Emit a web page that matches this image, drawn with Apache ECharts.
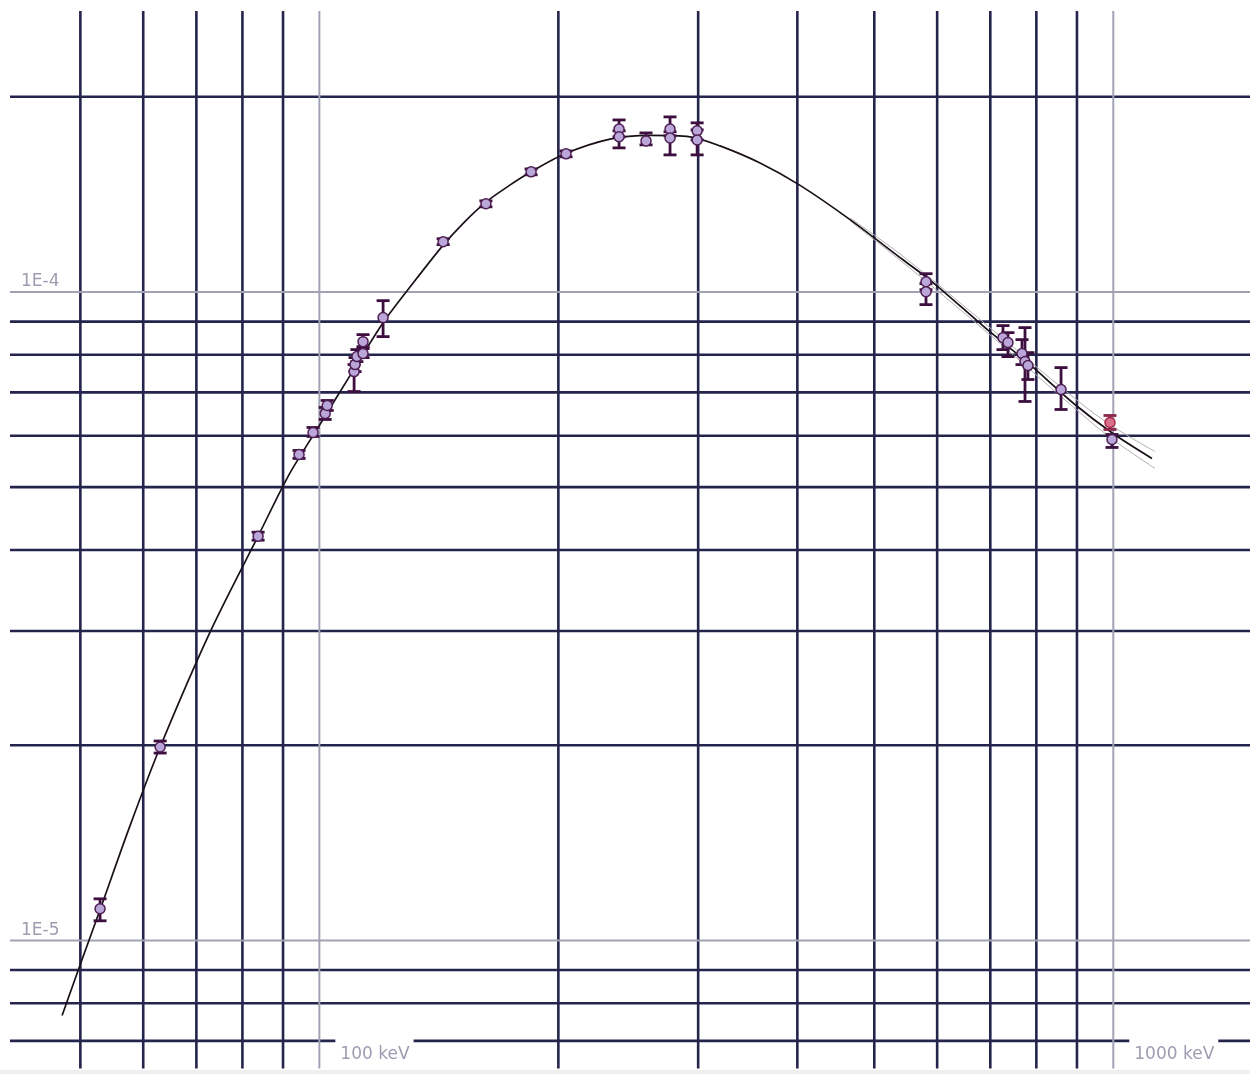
<!DOCTYPE html>
<html><head><meta charset="utf-8">
<script src="https://cdn.jsdelivr.net/npm/echarts@6/dist/echarts.min.js"></script>
<style>html,body{margin:0;padding:0;background:#efefef;overflow:hidden;} #c{width:1250px;height:1070px;background:#fff;}</style>
</head><body><div id="c"></div>
<script>
// ---- data (keV, photon flux) ----
const energyKeV = [52.94, 63.02, 83.72, 94.28, 98.19, 101.7, 102.3, 110.6, 110.9, 111.5, 113.5, 113.5, 120.3, 143.2, 162.1, 184.8, 204.5, 238.5, 238.5, 257.9, 276.5, 276.5, 299.1, 299.1, 580.9, 580.9, 726.2, 736.8, 767.4, 774.1, 780.8, 859.4, 996.2];
const flux = [1.119e-5, 1.987e-5, 4.201e-5, 5.616e-5, 6.071e-5, 6.495e-5, 6.682e-5, 7.537e-5, 7.726e-5, 7.949e-5, 8.034e-5, 8.383e-5, 9.129e-5, 1.195e-4, 1.368e-4, 1.532e-4, 1.633e-4, 1.784e-4, 1.735e-4, 1.710e-4, 1.784e-4, 1.728e-4, 1.772e-4, 1.716e-4, 1.037e-4, 1.001e-4, 8.503e-5, 8.354e-5, 8.034e-5, 7.809e-5, 7.699e-5, 7.073e-5, 5.922e-5];
const fluxLow = [1.072e-5, 1.945e-5, 4.142e-5, 5.537e-5, 5.986e-5, 6.359e-5, 6.565e-5, 7.022e-5, 7.537e-5, 7.809e-5, 7.921e-5, 8.236e-5, 8.533e-5, 1.183e-4, 1.353e-4, 1.516e-4, 1.616e-4, 1.735e-4, 1.668e-4, 1.686e-4, 1.741e-4, 1.627e-4, 1.716e-4, 1.627e-4, 1.008e-4, 9.560e-5, 8.149e-5, 7.949e-5, 7.726e-5, 6.778e-5, 7.328e-5, 6.588e-5, 5.757e-5];
const fluxHigh = [1.159e-5, 2.030e-5, 4.261e-5, 5.696e-5, 6.180e-5, 6.635e-5, 6.802e-5, 7.726e-5, 7.921e-5, 8.149e-5, 8.178e-5, 8.594e-5, 9.696e-5, 1.208e-4, 1.382e-4, 1.548e-4, 1.650e-4, 1.842e-4, 1.772e-4, 1.759e-4, 1.862e-4, 1.766e-4, 1.823e-4, 1.778e-4, 1.067e-4, 1.030e-4, 8.874e-5, 8.655e-5, 8.443e-5, 8.811e-5, 8.062e-5, 7.645e-5, 6.028e-5];

const redEnergy = [990.5];
const redFlux = [6.291e-5];
const redLow = [6.136e-5];
const redHigh = [6.449e-5];

const fitEnergy = [47.42, 49.97, 52.94, 57.75, 63.02, 72.83, 83.72, 91.48, 99.62, 109.3, 120.3, 131.4, 143.2, 152.4, 162.1, 173.0, 184.8, 204.5, 232.3, 260.9, 293.0, 319.6, 359.0, 403.2, 466.0, 543.4, 592.9, 689.3, 785.4, 894.7, 999.1, 1118.7];
const fitFlux = [7.657e-6, 9.174e-6, 1.115e-5, 1.503e-5, 1.987e-5, 2.988e-5, 4.201e-5, 5.214e-5, 6.180e-5, 7.431e-5, 8.965e-5, 1.034e-4, 1.181e-4, 1.283e-4, 1.376e-4, 1.456e-4, 1.532e-4, 1.636e-4, 1.721e-4, 1.744e-4, 1.735e-4, 1.680e-4, 1.581e-4, 1.460e-4, 1.293e-4, 1.121e-4, 1.034e-4, 8.811e-5, 7.726e-5, 6.706e-5, 6.050e-5, 5.537e-5];

const bandEnergy = [466.0, 543.4, 689.3, 894.7, 999.1, 1128.5];
const bandUpperFlux = [1.300e-4, 1.135e-4, 8.937e-5, 6.850e-5, 6.202e-5, 5.676e-5];
const bandLowerFlux = [1.287e-4, 1.110e-4, 8.718e-5, 6.612e-5, 5.922e-5, 5.344e-5];

const xMinorGrid = [50, 60, 70, 80, 90, 200, 300, 400, 500, 600, 700, 800, 900];
const xMajorGrid = [100, 1000];
const yMinorGrid = [2e-4, 9e-5, 8e-5, 7e-5, 6e-5, 5e-5, 4e-5, 3e-5, 2e-5, 9e-6, 8e-6, 7e-6];
const yMajorGrid = [1e-4, 1e-5];

const xTickValues = [100, 1000];
const xTickLabels = ['100 keV', '1000 keV'];
const yTickValues = [1e-4, 1e-5];
const yTickLabels = ['1E-4', '1E-5'];

const xRange = [40.77, 1486.6];
const yRange = [6.345e-6, 2.712e-4];

// ---- helpers ----
function lookup(vals, labels, v) {
  for (let i = 0; i < vals.length; i++) {
    if (Math.abs(Math.log10(v) - Math.log10(vals[i])) < 1e-6) return labels[i];
  }
  return '';
}
function gridSeries(values, vertical, color, width) {
  return {
    type: 'custom', silent: true, z: 1, clip: false,
    dimensions: ['v'],
    encode: vertical ? { x: 0 } : { y: 0 },
    data: values.map(v => [v]),
    renderItem: function (params, api) {
      const cs = params.coordSys;
      if (vertical) {
        const x = api.coord([api.value(0), yRange[0]])[0];
        return { type: 'line', shape: { x1: x, y1: cs.y, x2: x, y2: cs.y + cs.height }, style: { stroke: color, lineWidth: width } };
      } else {
        const y = api.coord([xRange[0], api.value(0)])[1];
        return { type: 'line', shape: { x1: cs.x, y1: y, x2: cs.x + cs.width, y2: y }, style: { stroke: color, lineWidth: width } };
      }
    }
  };
}
function errorSeries(E, lo, hi, color) {
  return {
    type: 'custom', silent: true, z: 4,
    dimensions: ['e', 'lo', 'hi'],
    encode: { x: 0, y: [1, 2] },
    data: E.map((e, i) => [e, lo[i], hi[i]]),
    renderItem: function (params, api) {
      const a = api.coord([api.value(0), api.value(1)]);
      const b = api.coord([api.value(0), api.value(2)]);
      const w = 6.5;
      const st = { stroke: color, lineWidth: 2.8 };
      return { type: 'group', children: [
        { type: 'line', shape: { x1: a[0], y1: a[1], x2: b[0], y2: b[1] }, style: st },
        { type: 'line', shape: { x1: a[0] - w, y1: a[1], x2: a[0] + w, y2: a[1] }, style: st },
        { type: 'line', shape: { x1: b[0] - w, y1: b[1], x2: b[0] + w, y2: b[1] }, style: st }
      ]};
    }
  };
}

const labelColor = '#9d9db2';
const chart = echarts.init(document.getElementById('c'), null, { renderer: 'canvas' });
chart.setOption({
  animation: false,
  backgroundColor: '#ffffff',
  grid: { left: 10, right: 0, top: 11, bottom: 0, containLabel: false },
  xAxis: {
    type: 'log', logBase: 10, min: xRange[0], max: xRange[1], z: 10,
    axisLine: { show: false }, axisTick: { show: false }, splitLine: { show: false },
    axisLabel: {
      inside: true, margin: 14, align: 'left', verticalAlign: 'middle',
      showMinLabel: false, showMaxLabel: false,
      formatter: function (v) { const t = lookup(xTickValues, xTickLabels, v); return t ? '{s| }{t|' + t + '}' : ''; },
      rich: {
        s: { width: 16 },
        t: { backgroundColor: '#ffffff', padding: [7, 4, 7, 5], color: labelColor, fontSize: 17, lineHeight: 18, fontFamily: 'DejaVu Sans' }
      }
    }
  },
  yAxis: {
    type: 'log', logBase: 10, min: yRange[0], max: yRange[1], z: 10,
    axisLine: { show: false }, axisTick: { show: false }, splitLine: { show: false },
    axisLabel: {
      inside: true, margin: 11, align: 'left', verticalAlign: 'bottom',
      showMinLabel: false, showMaxLabel: false,
      color: labelColor, fontSize: 17, lineHeight: 20, fontFamily: 'DejaVu Sans',
      formatter: function (v) { return lookup(yTickValues, yTickLabels, v); }
    }
  },
  series: [
    gridSeries(xMinorGrid, true, '#24244c', 2.6),
    gridSeries(yMinorGrid, false, '#24244c', 2.6),
    gridSeries(xMajorGrid, true, '#a2a2b4', 2),
    gridSeries(yMajorGrid, false, '#a2a2b4', 2),
    { type: 'line', z: 3, silent: true, showSymbol: false, smooth: 0.4,
      data: bandEnergy.map((e, i) => [e, bandUpperFlux[i]]),
      lineStyle: { color: '#b0b0b0', width: 1 } },
    { type: 'line', z: 3, silent: true, showSymbol: false, smooth: 0.4,
      data: bandEnergy.map((e, i) => [e, bandLowerFlux[i]]),
      lineStyle: { color: '#b0b0b0', width: 1 } },
    { type: 'line', z: 3, silent: true, showSymbol: false, smooth: 0.3,
      data: fitEnergy.map((e, i) => [e, fitFlux[i]]),
      lineStyle: { color: '#1a101a', width: 1.7 } },
    errorSeries(energyKeV, fluxLow, fluxHigh, '#3d0f3f'),
    errorSeries(redEnergy, redLow, redHigh, '#8a2848'),
    { type: 'scatter', z: 5, silent: true, symbol: 'circle', symbolSize: 10,
      data: energyKeV.map((e, i) => [e, flux[i]]),
      itemStyle: { color: '#bba6da', borderColor: '#4e1f52', borderWidth: 1.5, opacity: 1 } },
    { type: 'scatter', z: 5, silent: true, symbol: 'circle', symbolSize: 10,
      data: redEnergy.map((e, i) => [e, redFlux[i]]),
      itemStyle: { color: '#d8708c', borderColor: '#a8284c', borderWidth: 1.5, opacity: 1 } }
  ]
});
</script>
</body></html>
